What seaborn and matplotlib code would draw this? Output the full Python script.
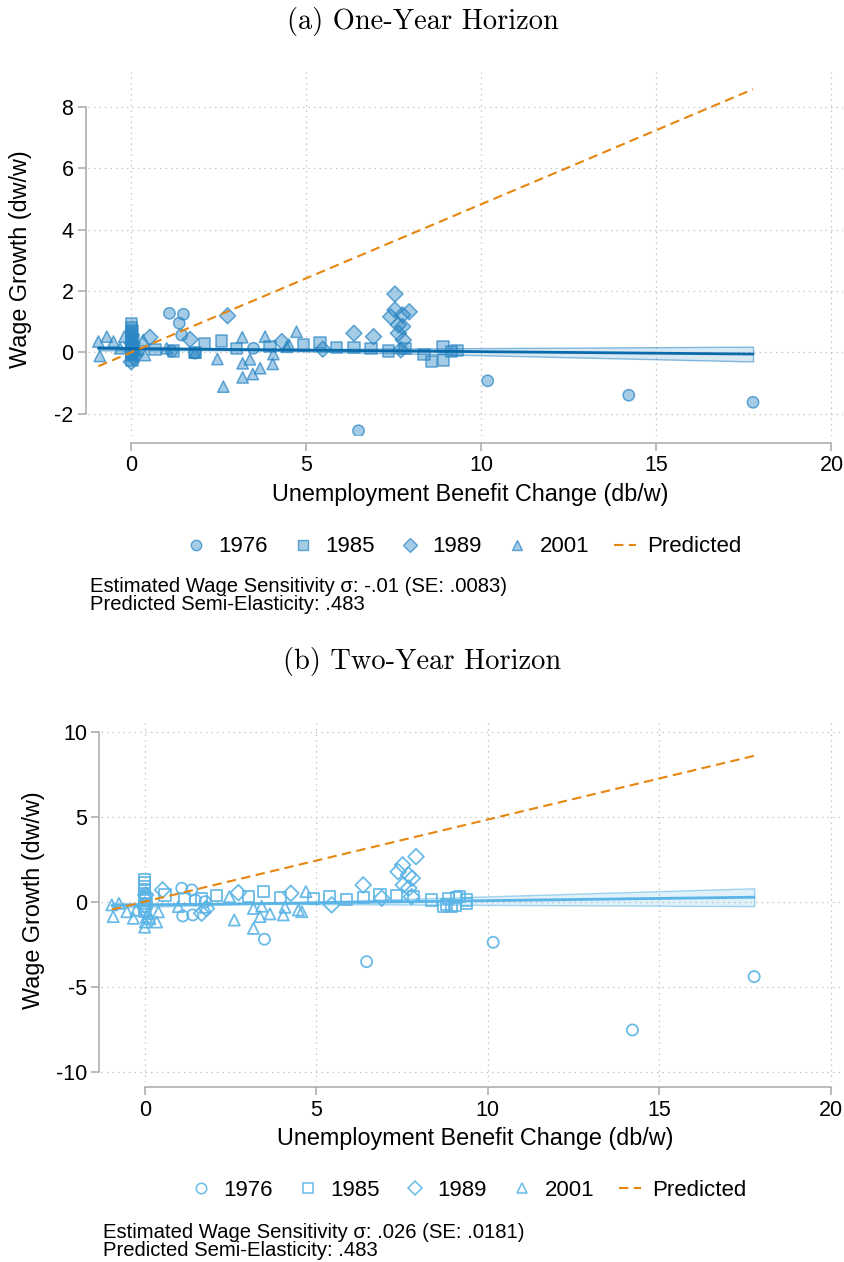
import numpy as np
import pandas as pd
import seaborn as sns
import matplotlib
matplotlib.use('Agg')
from matplotlib import pyplot as plt
from matplotlib.lines import Line2D
from matplotlib.colors import to_rgb

# ---- data: panel (a), one-year horizon ----
x76_a = [0.0, 0.02, 0.03, 1.09, 1.49, 1.37, 1.44, 1.15, 1.82, 3.49, 6.49, 10.18, 14.21, 17.76]
y76_a = [0.25, 0.55, -0.05, 1.27, 1.24, 0.95, 0.56, 0.04, -0.03, 0.13, -2.56, -0.93, -1.40, -1.63]

x85_a = [0.0, 0.0, 0.0, 0.0, 0.0, 0.0, 0.0, 0.0, 0.02, 0.03, 0.05,
         0.68, 1.2, 1.82, 2.1, 2.58, 3.01, 3.96, 4.91, 5.39, 5.87, 6.36,
         6.85, 7.34, 7.82, 8.36, 8.58, 8.9, 8.91, 9.15, 9.3]
y85_a = [0.93, 0.8, 0.65, 0.5, 0.35, 0.2, 0.05, -0.1, -0.25, 0.7, 0.4,
         0.1, 0.04, 0.0, 0.29, 0.37, 0.13, 0.2, 0.24, 0.31, 0.15, 0.15,
         0.13, 0.04, 0.13, -0.07, -0.31, 0.18, -0.25, 0.03, 0.05]

x89_a = [0.0, 0.02, 0.04, 0.06, 0.53, 1.68, 2.75, 4.3, 5.47, 6.36, 6.92,
         7.53, 7.53, 7.41, 7.75, 7.94, 7.63, 7.75, 7.63, 7.77, 7.7]
y89_a = [-0.31, 0.3, 0.1, -0.15, 0.49, 0.42, 1.19, 0.35, 0.1, 0.62, 0.51,
         1.9, 1.38, 1.16, 1.22, 1.32, 0.89, 0.84, 0.62, 0.4, 0.08]

x01_a = [-0.94, -0.9, -0.7, -0.51, -0.32, -0.2, 0.0, 0.02, 0.05, 0.1, 0.15, 0.2,
         0.34, 0.39, 1.01, 1.82, 2.46, 2.63, 3.17, 3.18, 3.18, 3.39, 3.47, 3.68,
         3.82, 4.06, 4.04, 4.44, 4.5, 4.72]
y01_a = [0.35, -0.12, 0.51, 0.35, 0.13, 0.51, 0.0, 0.3, -0.05, 0.15, 0.05, 0.1,
         0.4, -0.09, 0.13, -0.01, -0.22, -1.12, 0.49, -0.36, -0.82, -0.23, -0.71, -0.52,
         0.51, -0.06, -0.38, 0.18, 0.25, 0.67]

# ---- data: panel (b), two-year horizon ----
x76_b = [0.0, 0.02, 1.08, 1.37, 1.47, 1.76, 1.11, 1.4, 3.49, 6.47, 10.16, 14.22, 17.77]
y76_b = [0.3, -0.5, 0.79, 0.69, 0.1, 0.0, -0.84, -0.78, -2.21, -3.53, -2.39, -7.55, -4.41]

x85_b = [0.0, 0.0, 0.0, 0.0, 0.0, 0.0, 0.0, 0.0, 0.0, 0.03, 0.05,
         0.59, 1.17, 1.66, 2.1, 3.02, 3.46, 3.95, 4.92, 5.38, 5.89, 6.37, 6.86,
         7.35, 7.83, 8.37, 8.85, 9.1, 8.8, 8.95, 9.19, 9.39, 8.71, 9.05, 9.39]
y85_b = [1.3, 1.1, 0.9, 0.7, 0.5, 0.3, 0.1, -0.3, -0.6, 0.2, -0.1,
         0.39, 0.2, 0.2, 0.35, 0.29, 0.59, 0.24, 0.16, 0.29, 0.14, 0.24, 0.39,
         0.35, 0.29, 0.1, 0.2, 0.27, -0.19, -0.3, 0.29, 0.1, -0.29, -0.25, -0.1]

x89_b = [0.0, 0.03, 0.52, 1.66, 1.8, 2.73, 4.26, 5.45, 6.37, 6.91, 7.91, 7.52,
         7.39, 7.69, 7.8, 7.54, 7.7, 7.78]
y89_b = [-0.2, 0.4, 0.69, -0.68, -0.4, 0.53, 0.49, -0.19, 0.98, 0.2, 2.65, 2.16,
         1.76, 1.57, 1.38, 0.98, 0.8, 0.29]

x01_b = [-0.96, -0.92, -0.75, -0.52, -0.33, -0.25, 0.0, 0.02, 0.05, 0.1, 0.15,
         0.35, 0.4, 0.98, 1.76, 2.47, 2.61, 3.17, 3.36, 3.65, 3.17, 3.41, 4.04,
         4.09, 4.48, 4.58, 4.7]
y01_b = [-0.19, -0.88, -0.1, -0.59, -0.98, -0.5, -1.5, -1.2, -0.9, -0.7, -1.0,
         -1.2, -0.6, -0.29, -0.33, 0.29, -1.08, -1.57, -0.88, -0.72, -0.4, -0.27, -0.78,
         -0.33, -0.49, -0.59, 0.59]

years = ['1976', '1985', '1989', '2001']

# fitted line (intercept, sigma, SE) and predicted semi-elasticity
fit_a = (0.12, -0.01, 0.0083)
fit_b = (-0.2, 0.026, 0.0181)
semi_elasticity = 0.483

notes_a = ['Estimated Wage Sensitivity \u03c3: -.01 (SE: .0083)', 'Predicted Semi-Elasticity: .483']
notes_b = ['Estimated Wage Sensitivity \u03c3: .026 (SE: .0181)', 'Predicted Semi-Elasticity: .483']

MARKERS = {'1976': 'o', '1985': 's', '1989': 'D', '2001': '^'}
BLUE_A = '#2a86c4'
LINE_A = '#0a6aaa'
BLUE_B = '#5ab4e6'
ORANGE = '#e6860f'
AXGRAY = '#a8a8a8'


def make_frame(xs, ys):
    parts = []
    for yr, x, y in zip(years, xs, ys):
        parts.append(pd.DataFrame({'db': x, 'dw': y, 'year': yr}))
    return pd.concat(parts, ignore_index=True)


df_a = make_frame([x76_a, x85_a, x89_a, x01_a], [y76_a, y85_a, y89_a, y01_a])
df_b = make_frame([x76_b, x85_b, x89_b, x01_b], [y76_b, y85_b, y89_b, y01_b])

sns.set_theme(style='white')
plt.rcParams['font.family'] = ['Liberation Sans', 'DejaVu Sans']
plt.rcParams['axes.unicode_minus'] = False
plt.rcParams['text.color'] = 'black'

W, H = 845, 1262
fig = plt.figure(figsize=(W / 100, H / 100), dpi=100)


def px_rect(l, t, r, b):
    return [l / W, 1 - b / H, (r - l) / W, (b - t) / H]


def draw_panel(ax, df, filled, color, line_color, fit, xlim, ylim, yticks, bottom_off):
    rgb = to_rgb(color)
    if filled:
        sns.scatterplot(data=df, x='db', y='dw', style='year', markers=MARKERS,
                        s=66, color=color, facecolor=(*rgb, 0.42), edgecolor=(*rgb, 0.72),
                        linewidth=1.1, legend=False, ax=ax, zorder=2)
    else:
        sns.scatterplot(data=df, x='db', y='dw', style='year', markers=MARKERS,
                        s=64, color=color, facecolor='none', edgecolor=(*rgb, 0.9),
                        linewidth=1.3, legend=False, ax=ax, zorder=2)

    # fitted line with confidence band
    a, b, se = fit
    fx = np.linspace(df['db'].min(), df['db'].max(), 60)
    fy = a + b * fx
    half = 1.96 * np.sqrt((0.012) ** 2 + (se * (fx - 3.0)) ** 2)
    ax.fill_between(fx, fy - half, fy + half, facecolor=(*rgb, 0.18),
                    edgecolor=(*rgb, 0.55), linewidth=1.0, zorder=3)
    sns.lineplot(x=fx, y=fy, color=line_color, linewidth=2.0, ax=ax, zorder=4)

    # predicted line
    px = np.array([df['db'].min(), df['db'].max()])
    sns.lineplot(x=px, y=semi_elasticity * px, color=ORANGE, linewidth=1.5,
                 ax=ax, zorder=5).lines[-1].set_dashes((4.5, 2.6))

    ax.set_xlim(*xlim)
    ax.set_ylim(*ylim)
    ax.set_xticks([0, 5, 10, 15, 20])
    ax.set_yticks(yticks)
    ax.grid(True, color='#c4c4c4', linestyle=(0, (1.2, 3.2)), linewidth=0.9)
    ax.set_axisbelow(True)
    for s in ['top', 'right']:
        ax.spines[s].set_visible(False)
    for s in ['left', 'bottom']:
        ax.spines[s].set_color(AXGRAY)
        ax.spines[s].set_linewidth(1.1)
    ax.spines['left'].set_position(('outward', 1.5))
    ax.spines['bottom'].set_position(('outward', bottom_off))
    ax.spines['left'].set_bounds(yticks[0], yticks[-1])
    ax.spines['bottom'].set_bounds(0, 20)
    ax.tick_params(axis='both', which='both', direction='out', length=6, width=1.1,
                   color=AXGRAY, labelsize=15.5, pad=3, left=True, bottom=True,
                   labelcolor='black')
    ax.set_xlabel('')
    ax.set_ylabel('')


ax_a = fig.add_axes(px_rect(88, 72, 843, 436))
draw_panel(ax_a, df_a, True, BLUE_A, LINE_A, fit_a, (-1.237, 20.33), (-2.73, 9.14),
           [-2, 0, 2, 4, 6, 8], 5)

ax_b = fig.add_axes(px_rect(101.5, 722, 843, 1082))
draw_panel(ax_b, df_b, False, BLUE_B, BLUE_B, fit_b, (-1.26, 20.36), (-10.61, 10.57),
           [-10, -5, 0, 5, 10], 3.6)

# titles
fig.text(0.5, 1 - 22 / H, '(a) One-Year Horizon', family='cmr10', size=20.5,
         ha='center', va='center')
fig.text(0.5, 1 - 662 / H, '(b) Two-Year Horizon', family='cmr10', size=20.5,
         ha='center', va='center')

# axis labels
for yc, xc in [(259, 21), (900, 34)]:
    fig.text(xc / W, 1 - yc / H, 'Wage Growth (dw/w)', rotation=90, size=16.8,
             ha='center', va='center')
fig.text(470 / W, 1 - 494 / H, 'Unemployment Benefit Change (db/w)', size=16.8,
         ha='center', va='center')
fig.text(475 / W, 1 - 1138 / H, 'Unemployment Benefit Change (db/w)', size=16.8,
         ha='center', va='center')


def legend_handles(filled, color):
    rgb = to_rgb(color)
    hs = []
    for yr in years:
        ms = 7.5 if yr != '1989' else 7.0
        if filled:
            h = Line2D([], [], linestyle='none', marker=MARKERS[yr], markersize=ms,
                       markerfacecolor=(*rgb, 0.42), markeredgecolor=(*rgb, 0.72),
                       markeredgewidth=1.0)
        else:
            h = Line2D([], [], linestyle='none', marker=MARKERS[yr], markersize=ms,
                       markerfacecolor='none', markeredgecolor=(*rgb, 0.9),
                       markeredgewidth=1.1)
        hs.append(h)
    hs.append(Line2D([], [], color=ORANGE, linewidth=1.5, dashes=(4.5, 2.6)))
    return hs


labels = years + ['Predicted']
fig.legend(handles=legend_handles(True, BLUE_A), labels=labels, loc='center',
           bbox_to_anchor=(463 / W, 1 - 547 / H), ncol=5, frameon=False, fontsize=16,
           handlelength=1.0, handletextpad=0.5, columnspacing=1.1)
fig.legend(handles=legend_handles(False, BLUE_B), labels=labels, loc='center',
           bbox_to_anchor=(468 / W, 1 - 1190 / H), ncol=5, frameon=False, fontsize=16,
           handlelength=1.0, handletextpad=0.5, columnspacing=1.1)

# notes
for (x0, y0), notes in [((90, 587), notes_a), ((103, 1232), notes_b)]:
    for i, line in enumerate(notes):
        fig.text(x0 / W, 1 - (y0 + 18 * i) / H, line, size=14.6, ha='left', va='center')

fig.savefig('out.png', dpi=100)
